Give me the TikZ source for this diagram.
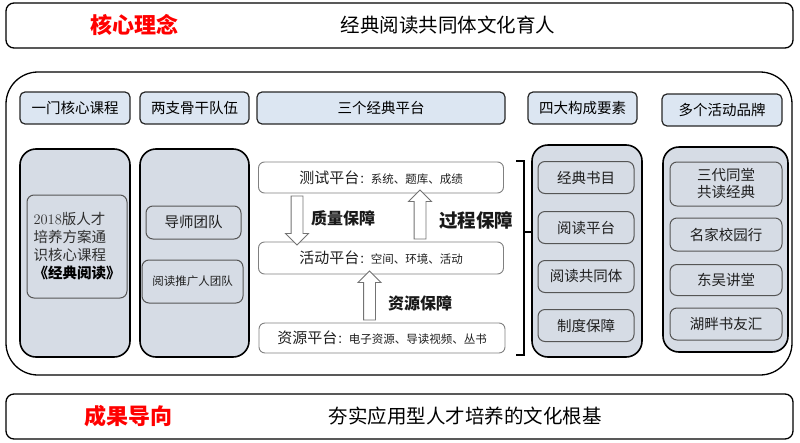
\documentclass[tikz,border=0pt]{standalone}
\usepackage{fontspec}
\newfontfamily\cjk{Noto Sans CJK SC}
\usetikzlibrary{shapes.arrows,calc}
\definecolor{headblue}{RGB}{220,230,242}
\definecolor{colgray}{RGB}{214,220,229}
\definecolor{edgegray}{RGB}{85,85,85}
\begin{document}
\begin{tikzpicture}[x=1pt,y=-1pt,font=\cjk,
  frame/.style={draw=black,line width=1.3pt,rounded corners=8pt,minimum width=787pt},
  head/.style={draw=black!85,line width=1.2pt,fill=headblue,rounded corners=5pt,minimum height=32pt,font=\cjk\fontsize{14.5}{17}\selectfont},
  colbox/.style={draw=black,line width=1.6pt,fill=colgray,rounded corners=16pt},
  inbox/.style={draw=edgegray,line width=1pt,fill=colgray,rounded corners=7pt,align=center,text=black!88,font=\cjk\fontsize{14.5}{17}\selectfont},
  platbox/.style={draw=black!50,line width=0.9pt,fill=white,rounded corners=6pt,minimum width=245pt,minimum height=31pt,text=black!88,font=\cjk\fontsize{15}{18}\selectfont},
  hollow/.style={single arrow,draw=black!55,fill=white,line width=0.9pt,inner sep=5.5pt,minimum width=22pt,minimum height=49pt,single arrow head extend=5.5pt,single arrow head indent=0pt},
  redword/.style={font=\cjk\fontsize{22}{26}\selectfont\bfseries,text=red},
  mainword/.style={font=\cjk\fontsize{19.5}{24}\selectfont,text=black},
  guard/.style={font=\cjk\fontsize{16}{19}\selectfont\bfseries,text=black!90}]
\useasboundingbox (0,0) rectangle (800,442);

\node[frame,minimum height=45pt] (top) at (399.5,25.5) {};
\node[redword] (idea) at (134,25) {核心理念};
\node[mainword] (ideatext) at (448,25) {经典阅读共同体文化育人};

\node[draw=black,line width=1.3pt,rounded corners=32pt,minimum width=786pt,minimum height=303pt] (mid) at (399,223.5) {};

\foreach \x/\w/\y/\t [count=\i] in {75/110/108/一门核心课程,194.5/109/108/两支骨干队伍,381/248/108/三个经典平台,582.5/109/108/四大构成要素,722/120/110/多个活动品牌}
  \node[head,minimum width=\w pt] (h\i) at (\x,\y) {\t};

\node[colbox,minimum width=110pt,minimum height=208pt] (c1) at (75,253) {};
\node[inbox,minimum width=100pt,minimum height=103pt,align=left,text=black!82,font=\cjk\fontsize{14.5}{18}\selectfont] (course) at (77,246.5)
  {{\rmfamily 2018}版人才\\培养方案通\\识核心课程\\{\bfseries\color{black}《经典阅读》}};

\node[colbox,minimum width=109pt,minimum height=208pt] (c2) at (194.5,253) {};
\node[inbox,minimum width=95pt,minimum height=33pt] (tutor) at (193.5,222.5) {导师团队};
\node[inbox,minimum width=101pt,minimum height=43pt,font=\cjk\fontsize{11.5}{14}\selectfont] (promo) at (192.5,281.5) {阅读推广人团队};

\node[platbox] (test) at (381,177.5) {测试平台{\fontsize{11.5}{14}\selectfont ：系统、题库、成绩}};
\node[platbox,minimum height=32pt] (act) at (381,258) {活动平台{\fontsize{11.5}{14}\selectfont ：空间、环境、活动}};
\node[platbox,minimum width=246pt,minimum height=30pt] (res) at (382,338) {资源平台{\fontsize{11.5}{14}\selectfont ：电子资源、导读视频、丛书}};

\node[hollow,shape border rotate=270] (down) at ($(test.south)!.5!(act.north)+(-84,0)$) {};
\node[hollow,shape border rotate=90] (up) at ($(test.south)!.5!(act.north)+(39,0)$) {};
\node[hollow,shape border rotate=90] (up2) at ($(act.south)!.5!(res.north)+(-12,0)$) {};
\node[guard] (quality) at (343,218) {质量保障};
\node[guard,font=\cjk\fontsize{18.5}{21}\selectfont\bfseries] (process) at (476,220) {过程保障};
\node[guard] (source) at (420,303) {资源保障};

\draw[line width=1.8pt] (516,161) -- (524,161) -- (524,355) -- (516,355);
\draw[line width=1.8pt] (524,232) -- (532,232);

\node[colbox,minimum width=110pt,minimum height=212pt] (c4) at (587,251) {};
\foreach \y/\t [count=\i] in {177.5/经典书目,227.5/阅读平台,276.5/阅读共同体,325.5/制度保障}
  \node[inbox,minimum width=96pt,minimum height=32pt] (e\i) at (586,\y) {\t};

\node[colbox,minimum width=125pt,minimum height=205pt] (c5) at (725.5,249.5) {};
\foreach \y/\h/\t [count=\i] in {184/44/{三代同堂\\共读经典},234.5/33/名家校园行,280/31/东吴讲堂,324/32/湖畔书友汇}
  \node[inbox,minimum width=112pt,minimum height=\h pt] (b\i) at (726,\y) {\t};

\node[frame,minimum height=45pt] (bottom) at (399.5,416.5) {};
\node[redword] (goal) at (128,416) {成果导向};
\node[mainword] (goaltext) at (465,416) {夯实应用型人才培养的文化根基};
\end{tikzpicture}
\end{document}
